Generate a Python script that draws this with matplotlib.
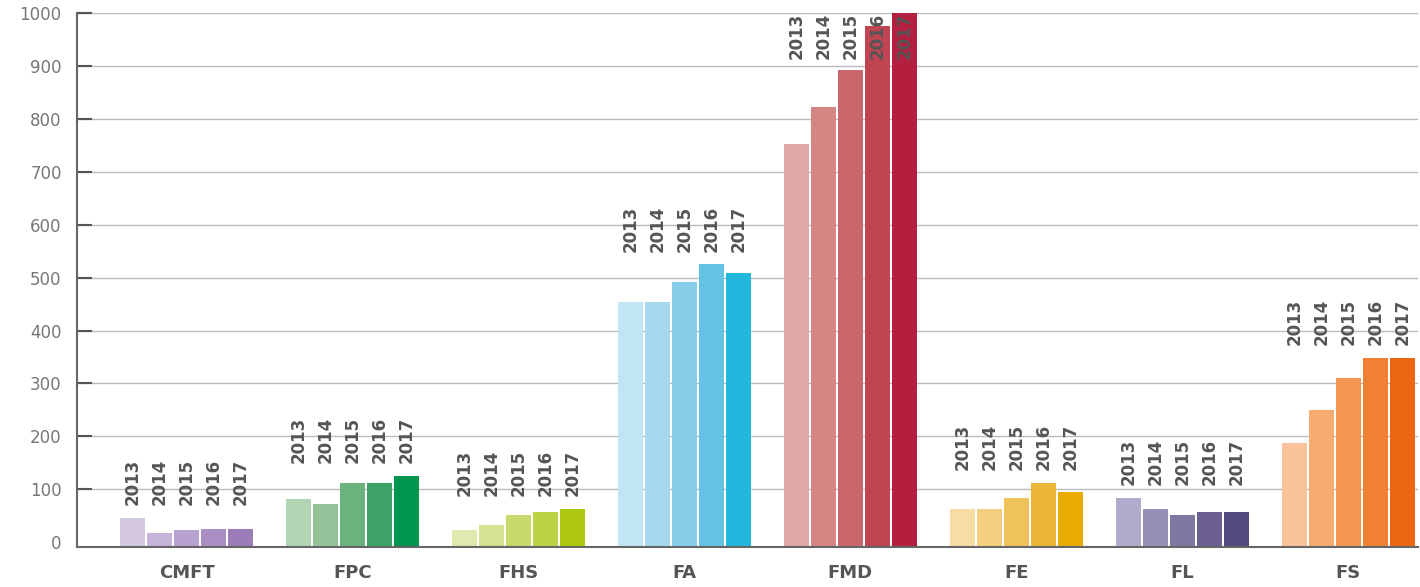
import numpy as np
import matplotlib
matplotlib.use("Agg")
import matplotlib.pyplot as plt

# data
categories = ["CMFT", "FPC", "FHS", "FA", "FMD", "FE", "FL", "FS"]
years = ["2013", "2014", "2015", "2016", "2017"]

cmft = [46, 18, 23, 25, 25]
fpc = [82, 72, 112, 112, 125]
fhs = [23, 33, 51, 57, 63]
fa = [453, 453, 491, 525, 508]
fmd = [753, 823, 893, 976, 1000]
fe = [63, 63, 84, 112, 95]
fl = [84, 63, 51, 57, 57]
fs = [187, 250, 310, 349, 349]

palettes = [
    ["#d5c8e2", "#c5b3d9", "#b8a2cf", "#a98fc4", "#9b7eb9"],
    ["#b0d4b4", "#93c499", "#6bb37e", "#3ca266", "#00964f"],
    ["#e2e9ae", "#d6e292", "#c9da6c", "#bdd245", "#adc70f"],
    ["#c2e5f3", "#a4d9ef", "#85cde9", "#64c3e4", "#22b8de"],
    ["#e0a9a6", "#d58584", "#c9666b", "#c04452", "#b41f3f"],
    ["#f7dda4", "#f4cf80", "#efc25c", "#ebb637", "#e8ab00"],
    ["#b1abcb", "#9690b5", "#7f77a1", "#6a5f90", "#534a7e"],
    ["#f9c49b", "#f6ac71", "#f3964f", "#ef8034", "#ea6610"],
]

YMIN, YMAX = -9, 1000


def main():
    series = [cmft, fpc, fhs, fa, fmd, fe, fl, fs]

    fig = plt.figure(figsize=(14.2, 5.87), dpi=100)
    ax = fig.add_axes([0.0542, 0.0681, 0.9444, 0.9098])

    step = 0.163
    width = 0.151
    offsets = (np.arange(5) - 2) * step

    for i, vals in enumerate(series):
        vals = np.array(vals, dtype=float)
        xs = i + offsets
        ax.bar(xs, vals - YMIN, bottom=YMIN, width=width,
               color=palettes[i], zorder=2)
        # year labels above the tallest bar of the group
        top = vals.max() + 24
        va = "bottom"
        if top + 85 > YMAX:
            top, va = YMAX, "top"
        for x, yr in zip(xs, years):
            ax.text(x, top, yr, rotation=90, ha="center", va=va,
                    fontsize=12, color="#555555", fontweight="semibold",
                    zorder=3)

    ax.set_xlim(-0.66, 7.42)
    ax.set_ylim(YMIN, YMAX)

    ax.set_xticks(range(len(categories)))
    ax.set_xticklabels(categories, fontsize=13, color="#555555",
                       fontweight="bold")
    ax.tick_params(axis="x", length=0, pad=12)

    ax.set_yticks(np.arange(0, 1001, 100))
    ax.tick_params(axis="y", direction="in", length=11, width=1.5,
                   color="#555555", labelcolor="#777777", labelsize=12,
                   pad=11)
    ax.yaxis.grid(True, color="#bbbbbb", linewidth=1, zorder=0)
    ax.set_axisbelow(True)
    # no gridline / tick at zero, the base line sits there
    ax.get_ygridlines()[0].set_visible(False)
    ax.yaxis.get_major_ticks()[0].tick1line.set_visible(False)

    for side in ["top", "right"]:
        ax.spines[side].set_visible(False)
    for side in ["left", "bottom"]:
        ax.spines[side].set_color("#666666")
        ax.spines[side].set_linewidth(1.5)

    fig.savefig("out.png", dpi=100)


if __name__ == "__main__":
    main()
